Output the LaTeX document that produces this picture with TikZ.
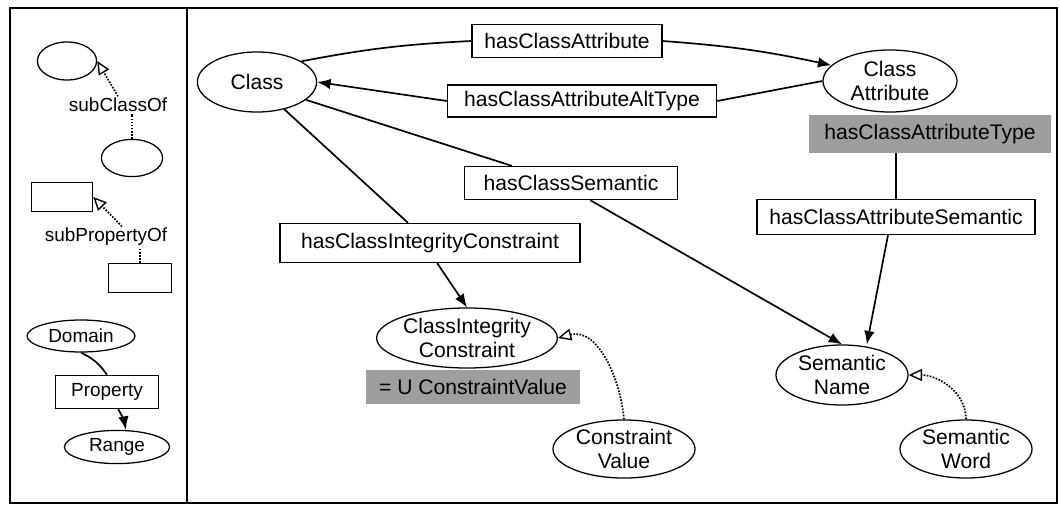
\documentclass[tikz,border=0pt]{standalone}
\usepackage{fontspec}
\setmainfont{Liberation Sans}
\usetikzlibrary{arrows.meta,shapes,positioning}
\newcommand\rdffont{\fontsize{15}{16.5}\selectfont}
\newcommand\legendfont{\fontsize{13.5}{15}\selectfont}
\tikzset{
     class node/.style={draw, ellipse, line width=0.9pt, inner sep=0pt, align=center, font=\rdffont},
      prop node/.style={draw, rectangle, line width=0.8pt, inner sep=0pt, font=\rdffont},
      type node/.style={fill=black!38, rectangle, inner sep=0pt, font=\rdffont},
      label node/.style={inner sep=1pt, font=\legendfont},
      relline/.style = {black, line width=1.2pt},
      reledge/.style = {black, line width=1.2pt, -{Latex[length=9.5pt,width=7.5pt]}},
      subline/.style = {black, line width=1.2pt, densely dotted},
      subedge/.style = {black, line width=1.2pt, densely dotted, -{Triangle[open,length=9.5pt,width=8.5pt,line width=1pt]}},
    }

\begin{document}
\begin{tikzpicture}[x=0.025cm, y=-0.025cm]
        \useasboundingbox (0,0) rectangle (1060,506);
        \draw [line width=0.9pt] (10,8) rectangle (1057,503) (187,8) -- (187,503);

        % legend
        \node [class node, minimum width=1.48cm, minimum height=0.95cm] (sup1) at (67,61) {};
        \node [label node] (sclbl) at (118,105) {subClassOf};
        \node [class node, minimum width=1.53cm, minimum height=0.93cm] (sub1) at (132,158) {};
        \node [prop node, minimum width=1.53cm, minimum height=0.73cm] (sup2) at (62,197) {};
        \node [label node] (splbl) at (106,237) {subPropertyOf};
        \node [prop node, minimum width=1.58cm, minimum height=0.73cm] (sub2) at (140,278) {};
        \node [class node, font=\legendfont, minimum width=2.7cm, minimum height=0.8cm] (dom) at (81,336) {Domain};
        \node [prop node, font=\legendfont, minimum width=2.58cm, minimum height=0.83cm] (prop) at (107,392) {Property};
        \node [class node, font=\legendfont, minimum width=2.63cm, minimum height=0.83cm] (rng) at (117,447) {Range};

        \path
        (sclbl.north) edge [subedge] (sup1.east)
        (sub1.north) edge [subline] (sub1.north |- sclbl.south)
        ([xshift=0.4cm]splbl.north) edge [subedge] (sup2.east)
        (sub2.north) edge [subline] (sub2.north |- splbl.south)
        (dom.south) edge [relline, bend left=15] (prop.north)
        ([xshift=0.28cm]prop.south) edge [reledge, bend left=10] ([xshift=0.22cm]rng.north);

        % model
        \node [class node, minimum width=2.98cm, minimum height=1.5cm] (cls) at (257,82) {Class};
        \node [class node, minimum width=3.35cm, minimum height=1.55cm] (ca) at (890,81) {Class\\Attribute};
        \node [prop node, minimum width=4.75cm, minimum height=0.83cm] (hca) at (567,41) {hasClassAttribute};
        \node [prop node, minimum width=6.73cm, minimum height=0.8cm] (hcaat) at (582,101) {hasClassAttributeAltType};
        \node [type node, minimum width=6.03cm, minimum height=0.95cm] (hcat) at (930,134) {hasClassAttributeType};
        \node [prop node, minimum width=5.33cm, minimum height=0.83cm] (hcs) at (571,183) {hasClassSemantic};
        \node [prop node, minimum width=6.95cm, minimum height=0.88cm] (hcas) at (896,217) {hasClassAttributeSemantic};
        \node [prop node, minimum width=7.5cm, minimum height=0.98cm] (hcic) at (430,243) {hasClassIntegrityConstraint};
        \node [class node, minimum width=4.48cm, minimum height=1.5cm] (cic) at (467,338) {ClassIntegrity\\Constraint};
        \node [type node, minimum width=5.33cm, minimum height=0.83cm] (ucv) at (473,387) {= U ConstraintValue};
        \node [class node, minimum width=3.55cm, minimum height=1.45cm] (cv) at (624,449) {Constraint\\Value};
        \node [class node, minimum width=3.3cm, minimum height=1.5cm] (sn) at (842,375) {Semantic\\Name};
        \node [class node, minimum width=3.3cm, minimum height=1.45cm] (sw) at (966,449) {Semantic\\Word};

        \path
        (cls.25) edge [relline, bend left=4] (hca.west)
        (hca.east) edge [reledge, bend left=4] (ca.165)
        (ca.west) edge [relline] (hcaat.east)
        (hcaat.west) edge [reledge] (cls.east)
        (cls.-20) edge [relline] ([xshift=-1.48cm]hcs.north)
        ([xshift=0.48cm]hcs.south) edge [reledge] (sn.north)
        (cls.-45) edge [relline] ([xshift=-0.55cm]hcic.north)
        ([xshift=0.18cm]hcic.south) edge [reledge] (cic.north)
        (hcas.north |- hcat.south) edge [relline] (hcas.north)
        ([xshift=-0.2cm]hcas.south) edge [reledge] ([xshift=0.62cm]sn.north)
        (cv.north) edge [subedge, out=95, in=15] (cic.east)
        (sw.north) edge [subedge, out=90, in=0] (sn.east);
    \end{tikzpicture}
\end{document}
